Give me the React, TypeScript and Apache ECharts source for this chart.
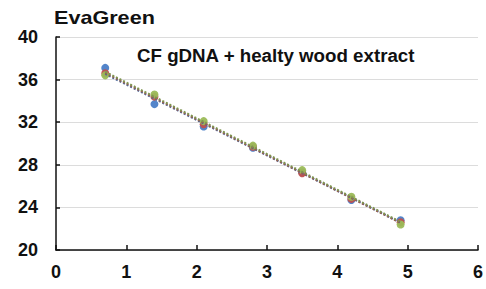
import React, { useEffect, useRef } from "react";
import * as echarts from "echarts";

const xValues = [0.7, 1.4, 2.1, 2.8, 3.5, 4.2, 4.9];
const blueValues = [37.1, 33.7, 31.6, 29.6, 27.3, 24.7, 22.8];
const redValues = [36.6, 34.4, 31.8, 29.7, 27.2, 24.8, 22.6];
const greenValues = [36.4, 34.6, 32.1, 29.8, 27.5, 25.0, 22.4];
const xTicks = [0, 1, 2, 3, 4, 5, 6];
const yTicks = [20, 24, 28, 32, 36, 40];
const titleText = "EvaGreen";
const noteText = "CF gDNA + healty wood extract";

const colors = { blue: "#4A7EC7", red: "#C0504D", green: "#9BBB59" };

function fit(xs: number[], ys: number[]) {
  const n = xs.length;
  const mx = xs.reduce((a, b) => a + b, 0) / n;
  const my = ys.reduce((a, b) => a + b, 0) / n;
  let sxy = 0, sxx = 0;
  for (let i = 0; i < n; i++) {
    sxy += (xs[i] - mx) * (ys[i] - my);
    sxx += (xs[i] - mx) * (xs[i] - mx);
  }
  const b = sxy / sxx;
  const a = my - b * mx;
  const x0 = xs[0], x1 = xs[n - 1];
  return [[x0, a + b * x0], [x1, a + b * x1]];
}

export default function App() {
  const ref = useRef<HTMLDivElement>(null);
  useEffect(() => {
    const chart = echarts.init(ref.current!, null, { renderer: "svg" });
    const font = "Liberation Sans, Arial, sans-serif";
    const pts = (ys: number[]) => xValues.map((x, i) => [x, ys[i]]);
    const trend = (ys: number[], color: string) => ({
      type: "line",
      data: fit(xValues, ys),
      symbol: "none",
      silent: true,
      z: 3,
      lineStyle: { color, width: 2, type: [2, 2] },
    });
    const scatter = (ys: number[], color: string) => ({
      type: "scatter",
      data: pts(ys),
      symbolSize: 8,
      itemStyle: { color, opacity: 0.95 },
      z: 2,
    });
    chart.setOption({
      animation: false,
      graphic: [
        {
          type: "text",
          x: 54,
          y: 9,
          scaleX: 1.2,
          style: { text: titleText, font: `bold 18px ${font}`, fill: "#111", textVerticalAlign: "top" },
        },
        {
          type: "text",
          x: 137,
          y: 47,
          scaleX: 1.04,
          style: { text: noteText, font: `bold 18px ${font}`, fill: "#111", textVerticalAlign: "top" },
        },
      ],
      grid: { left: 56, right: 6, top: 37, bottom: 39 },
      xAxis: {
        type: "value",
        min: 0,
        max: 6,
        interval: 1,
        axisLine: { show: true, lineStyle: { color: "#111", width: 1.5 } },
        axisTick: { show: true, inside: true, length: 5, lineStyle: { color: "#111", width: 1.5 } },
        axisLabel: { fontFamily: font, fontSize: 18, fontWeight: "bold", color: "#111", margin: 13 },
        splitLine: { show: false },
        data: xTicks,
      },
      yAxis: {
        type: "value",
        min: 20,
        max: 40,
        interval: 4,
        axisLine: { show: true, lineStyle: { color: "#111", width: 1.5 } },
        axisTick: { show: true, inside: true, length: 4, lineStyle: { color: "#111", width: 1.5 } },
        axisLabel: { fontFamily: font, fontSize: 18, fontWeight: "bold", color: "#111", margin: 18 },
        splitLine: { show: true, lineStyle: { color: "#DCDCDC", width: 1 } },
        data: yTicks,
      },
      series: [
        scatter(blueValues, colors.blue),
        scatter(redValues, colors.red),
        scatter(greenValues, colors.green),
        trend(blueValues, "#4F6A9A"),
        trend(redValues, "#9A5A50"),
        trend(greenValues, "#7E9550"),
      ],
    });
    return () => chart.dispose();
  }, []);
  return <div ref={ref} style={{ width: 486, height: 289, position: "absolute", left: 0, top: 0, background: "#fff" }} />;
}
